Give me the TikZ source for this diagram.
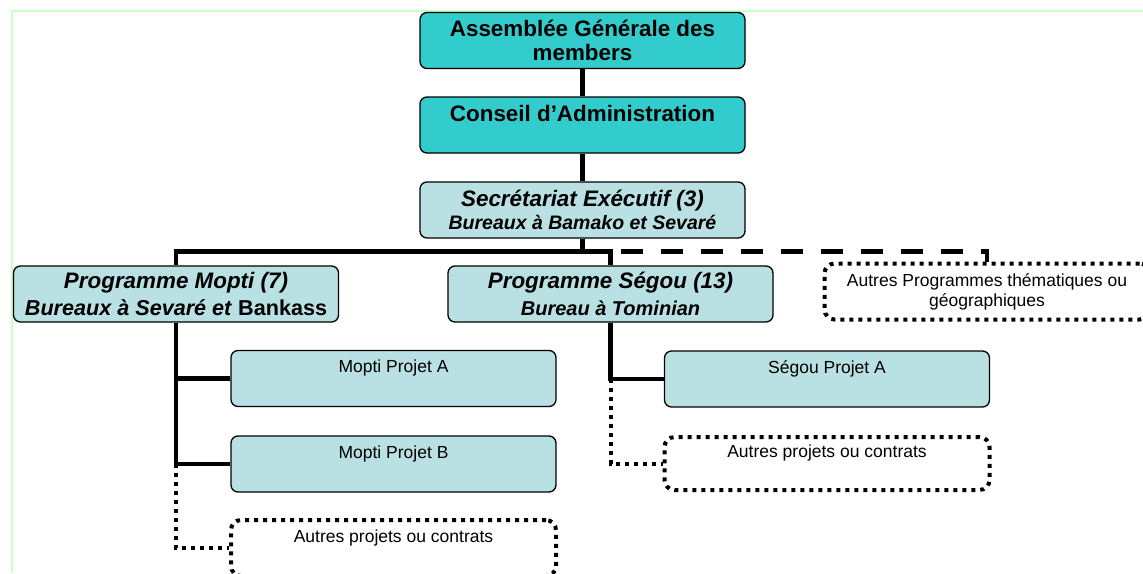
\documentclass[tikz,border=0pt]{standalone}
\usepackage{fontspec}
\setmainfont{Liberation Sans}
\definecolor{turq}{RGB}{51,204,204}
\definecolor{paleblue}{RGB}{185,224,227}
\definecolor{framegreen}{RGB}{204,255,204}

\begin{document}
\begin{tikzpicture}[x=1pt,y=-1pt,
		box/.style={draw,line width=1.3pt,rounded corners=7pt,minimum width=325pt,minimum height=56pt,align=center,inner sep=0pt},
		headbox/.style={box,fill=turq,font=\bfseries\fontsize{22.4}{24}\selectfont},
		progbox/.style={box,fill=paleblue,font=\bfseries\itshape\fontsize{22.4}{23}\selectfont},
		projbox/.style={box,fill=paleblue,font=\fontsize{17.5}{24}\selectfont},
		otherbox/.style={projbox,fill=none,line width=4pt,dash pattern=on 4pt off 5pt,rounded corners=10pt},
		link/.style={line width=4.6pt},
		dashlink/.style={line width=4.6pt,dash pattern=on 22pt off 18pt,dash phase=30pt},
		dotlink/.style={line width=4pt,dash pattern=on 4pt off 5pt}]
		\useasboundingbox (0,0) rectangle (1143,573);
		\draw[framegreen,line width=2pt] (12,573) -- (12,11) -- (1143,11);

		\node[headbox] (AG) at (582.5,40.5) {Assemblée Générale des\\members};
		\node[headbox] (CA) at (582.5,125) {Conseil d’Administration\\\mbox{}};
		\node[progbox] (SE) at (582.5,210) {Secrétariat Exécutif (3)\\{\fontsize{19.5}{23}\selectfont Bureaux à Bamako et Sevaré}};

		\node[progbox] (MO) at (176,294) {Programme Mopti (7)\\[4pt]{\fontsize{21.6}{23}\selectfont Bureaux à Sevaré et \textup{Bankass}}};
		\node[progbox] (SG) at (610.5,294) {Programme Ségou (13)\\[4pt]{\fontsize{20}{23}\selectfont Bureau à Tominian}};
		\node[otherbox,font=\fontsize{17.5}{20}\selectfont] (AP) at (987,291.5) {Autres Programmes thématiques ou\\géographiques};

		\node[projbox] (MA) at (393.5,378.5) {Mopti Projet A\\\mbox{}};
		\node[projbox] (MB) at (393.5,464) {Mopti Projet B\\\mbox{}};
		\node[otherbox] (MC) at (393.5,548) {Autres projets ou contrats\\\mbox{}};
		\node[projbox] (SA) at (827,379) {Ségou Projet A\\\mbox{}};
		\node[otherbox,minimum height=53pt] (SC) at (827,463.5) {Autres projets ou contrats\\\mbox{}};

		\draw[link] (AG) -- (CA);
		\draw[link] (CA) -- (SE);
		\draw[link] (SE.south) -- ++(0,14);
		\draw[link] (MO.north) -- ++(0,-14) -| (SG.north);
		\draw[dashlink] (SG.north) ++(0,-14) -| (AP.north);

		\draw[link] (MO.south) |- (MB.west);
		\draw[link] (MO.south |- MA.west) -- (MA.west);
		\draw[dotlink] (MO.south |- MB.west) |- (MC.west);
		\draw[link] (SG.south) |- (SA.west);
		\draw[dotlink] (SG.south |- SA.west) |- (SC.west);
	\end{tikzpicture}
\end{document}
